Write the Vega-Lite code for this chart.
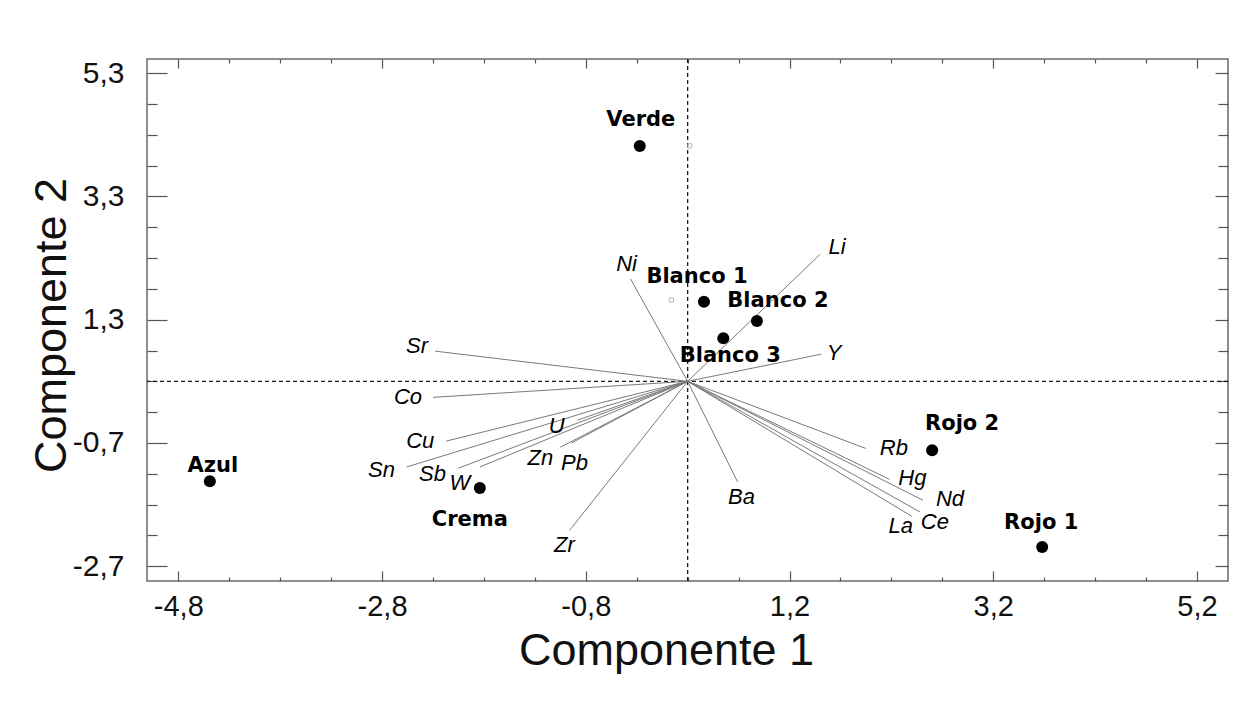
{
  "$schema": "https://vega.github.io/schema/vega-lite/v6.json",
  "width": 1081,
  "height": 522,
  "autosize": {"type": "none"},
  "padding": {"left": 147, "top": 59, "right": 17, "bottom": 121},
  "background": "white",
  "config": {
    "view": {"stroke": "#6a6a6a", "strokeWidth": 1.5},
    "style": {
      "ld": {"font": "Liberation Sans", "fontStyle": "italic", "fontSize": 22, "fill": "#222222", "align": "center", "baseline": "middle"},
      "pt": {"font": "DejaVu Sans", "fontWeight": "bold", "fontSize": 21, "fill": "#111111", "align": "center", "baseline": "middle"}
    }
  },
  "datasets": {
    "scores": [
      {"name": "Verde", "x": -0.27, "y": 4.12},
      {"name": "Blanco 1", "x": 0.36, "y": 1.59},
      {"name": "Blanco 2", "x": 0.88, "y": 1.28},
      {"name": "Blanco 3", "x": 0.55, "y": 1.0},
      {"name": "Azul", "x": -4.49, "y": -1.32},
      {"name": "Crema", "x": -1.84, "y": -1.43},
      {"name": "Rojo 2", "x": 2.6, "y": -0.82},
      {"name": "Rojo 1", "x": 3.68, "y": -2.39}
    ],
    "loadings": [
      {"name": "Sr", "x0": 0.2, "y0": 0.3, "x": -2.28, "y": 0.79},
      {"name": "Co", "x0": 0.2, "y0": 0.3, "x": -2.3, "y": 0.04},
      {"name": "Cu", "x0": 0.2, "y0": 0.3, "x": -2.17, "y": -0.67},
      {"name": "Sn", "x0": 0.2, "y0": 0.3, "x": -2.56, "y": -1.09},
      {"name": "Sb", "x0": 0.2, "y0": 0.3, "x": -2.05, "y": -1.11},
      {"name": "W", "x0": 0.2, "y0": 0.3, "x": -1.84, "y": -1.09},
      {"name": "U", "x0": 0.2, "y0": 0.3, "x": -0.88, "y": -0.33},
      {"name": "Zn", "x0": 0.2, "y0": 0.3, "x": -1.05, "y": -0.77},
      {"name": "Pb", "x0": 0.2, "y0": 0.3, "x": -0.94, "y": -0.7},
      {"name": "Zr", "x0": 0.2, "y0": 0.3, "x": -0.96, "y": -2.12},
      {"name": "Ni", "x0": 0.2, "y0": 0.3, "x": -0.36, "y": 1.96},
      {"name": "Li", "x0": 0.2, "y0": 0.3, "x": 1.5, "y": 2.36},
      {"name": "Y", "x0": 0.2, "y0": 0.3, "x": 1.51, "y": 0.74},
      {"name": "Ba", "x0": 0.2, "y0": 0.3, "x": 0.69, "y": -1.33},
      {"name": "Rb", "x0": 0.2, "y0": 0.3, "x": 1.95, "y": -0.79},
      {"name": "Hg", "x0": 0.2, "y0": 0.3, "x": 2.18, "y": -1.29},
      {"name": "Nd", "x0": 0.2, "y0": 0.3, "x": 2.51, "y": -1.63},
      {"name": "Ce", "x0": 0.2, "y0": 0.3, "x": 2.48, "y": -1.82},
      {"name": "La", "x0": 0.2, "y0": 0.3, "x": 2.4, "y": -1.89}
    ],
    "aux": [
      {"name": "a", "x": 0.22, "y": 4.12},
      {"name": "b", "x": 0.04, "y": 1.62}
    ]
  },
  "resolve": {"axis": {"x": "independent", "y": "independent"}},
  "layer": [
    {
      "data": {"values": [{"v": 0.3}]},
      "mark": {"type": "rule", "color": "#1a1a1a", "strokeWidth": 1.3, "strokeDash": [4, 3]},
      "encoding": {"y": {"field": "v", "type": "quantitative", "scale": {"domain": [-2.94, 5.53], "nice": false, "zero": false}, "axis": null}}
    },
    {
      "data": {"values": [{"v": 0.2}]},
      "mark": {"type": "rule", "color": "#1a1a1a", "strokeWidth": 1.3, "strokeDash": [4, 3]},
      "encoding": {"x": {"field": "v", "type": "quantitative", "scale": {"domain": [-5.107, 5.504], "nice": false, "zero": false}, "axis": null}}
    },
    {
      "data": {"name": "loadings"},
      "mark": {"type": "rule", "color": "#7a7a7a", "strokeWidth": 1},
      "encoding": {
        "x": {"field": "x0", "type": "quantitative", "scale": {"domain": [-5.107, 5.504], "nice": false, "zero": false}, "axis": null},
        "y": {"field": "y0", "type": "quantitative", "scale": {"domain": [-2.94, 5.53], "nice": false, "zero": false}, "axis": null},
        "x2": {"field": "x"},
        "y2": {"field": "y"}
      }
    },
    {
      "data": {"name": "scores"},
      "mark": {"type": "point", "filled": true, "color": "#000000", "size": 145, "opacity": 1},
      "encoding": {
        "x": {
          "field": "x", "type": "quantitative",
          "scale": {"domain": [-5.107, 5.504], "nice": false, "zero": false},
          "axis": {
            "orient": "bottom", "domain": false, "grid": false,
            "values": [-4.8, -4.3, -3.8, -3.3, -2.8, -2.3, -1.8, -1.3, -0.8, -0.3, 0.2, 0.7, 1.2, 1.7, 2.2, 2.7, 3.2, 3.7, 4.2, 4.7, 5.2],
            "tickColor": "#555555", "tickWidth": 1.2,
            "tickSize": {"condition": {"test": "indexof([-4.8, -2.8, -0.8, 1.2, 3.2, 5.2], datum.value) >= 0", "value": -10}, "value": -4},
            "labelExpr": "indexof([-4.8, -2.8, -0.8, 1.2, 3.2, 5.2], datum.value) >= 0 ? replace('' + datum.value, '.', ',') : ''",
            "labelFont": "Liberation Sans", "labelFontSize": 29, "labelColor": "#111111",
            "labelPadding": 35, "labelBaseline": "middle", "labelFlush": false, "labelOverlap": false, "labelBound": false,
            "title": "Componente 1", "titleFont": "Liberation Sans", "titleFontSize": 45, "titleFontWeight": "normal",
            "titleColor": "#111111", "titleX": 519, "titleY": 83, "titleBaseline": "alphabetic", "titleAlign": "center"
          }
        },
        "y": {
          "field": "y", "type": "quantitative",
          "scale": {"domain": [-2.94, 5.53], "nice": false, "zero": false},
          "axis": {
            "orient": "left", "domain": false, "grid": false,
            "values": [-2.7, -2.2, -1.7, -1.2, -0.7, -0.2, 0.3, 0.8, 1.3, 1.8, 2.3, 2.8, 3.3, 3.8, 4.3, 4.8, 5.3],
            "tickColor": "#555555", "tickWidth": 1.2,
            "tickSize": {"condition": {"test": "indexof([-2.7, -0.7, 1.3, 3.3, 5.3], datum.value) >= 0", "value": -20}, "value": -10},
            "labelExpr": "indexof([-2.7, -0.7, 1.3, 3.3, 5.3], datum.value) >= 0 ? replace('' + datum.value, '.', ',') : ''",
            "labelFont": "Liberation Sans", "labelFontSize": 30, "labelColor": "#111111",
            "labelPadding": 43, "labelBaseline": "middle", "labelAlign": "right", "labelFlush": false, "labelOverlap": false, "labelBound": false,
            "title": "Componente 2", "titleFont": "Liberation Sans", "titleFontSize": 45, "titleFontWeight": "normal",
            "titleColor": "#111111", "titleX": -82, "titleY": 266, "titleBaseline": "alphabetic", "titleAlign": "center", "titleAngle": 270
          }
        }
      }
    },
    {
      "data": {"name": "aux"},
      "mark": {"type": "square", "filled": false, "color": "#9a9a9a", "size": 18, "strokeWidth": 1},
      "encoding": {
        "x": {
          "field": "x", "type": "quantitative",
          "scale": {"domain": [-5.107, 5.504], "nice": false, "zero": false},
          "axis": {
            "orient": "top", "domain": false, "grid": false, "labels": false, "title": null,
            "values": [-4.8, -4.3, -3.8, -3.3, -2.8, -2.3, -1.8, -1.3, -0.8, -0.3, 0.2, 0.7, 1.2, 1.7, 2.2, 2.7, 3.2, 3.7, 4.2, 4.7, 5.2],
            "tickColor": "#555555", "tickWidth": 1.2,
            "tickSize": {"condition": {"test": "indexof([-4.8, -2.8, -0.8, 1.2, 3.2, 5.2], datum.value) >= 0", "value": -9}, "value": -4}
          }
        },
        "y": {
          "field": "y", "type": "quantitative",
          "scale": {"domain": [-2.94, 5.53], "nice": false, "zero": false},
          "axis": {
            "orient": "right", "domain": false, "grid": false, "labels": false, "title": null,
            "values": [-2.7, -2.2, -1.7, -1.2, -0.7, -0.2, 0.3, 0.8, 1.3, 1.8, 2.3, 2.8, 3.3, 3.8, 4.3, 4.8, 5.3],
            "tickColor": "#555555", "tickWidth": 1.2,
            "tickSize": {"condition": {"test": "indexof([-2.7, -0.7, 1.3, 3.3, 5.3], datum.value) >= 0", "value": -13}, "value": -10}
          }
        }
      }
    },
    {
      "data": {"name": "scores"},
      "encoding": {
        "x": {"field": "x", "type": "quantitative", "scale": {"domain": [-5.107, 5.504], "nice": false, "zero": false}, "axis": null},
        "y": {"field": "y", "type": "quantitative", "scale": {"domain": [-2.94, 5.53], "nice": false, "zero": false}, "axis": null},
        "text": {"field": "name", "type": "nominal"}
      },
      "layer": [
        {"transform": [{"filter": "datum.name === 'Verde'"}], "mark": {"type": "text", "style": "pt", "dx": 1, "dy": -26}},
        {"transform": [{"filter": "datum.name === 'Blanco 1'"}], "mark": {"type": "text", "style": "pt", "dx": -7, "dy": -25}},
        {"transform": [{"filter": "datum.name === 'Blanco 2'"}], "mark": {"type": "text", "style": "pt", "dx": 21, "dy": -20}},
        {"transform": [{"filter": "datum.name === 'Blanco 3'"}], "mark": {"type": "text", "style": "pt", "dx": 7, "dy": 18}},
        {"transform": [{"filter": "datum.name === 'Azul'"}], "mark": {"type": "text", "style": "pt", "dx": 3, "dy": -15}},
        {"transform": [{"filter": "datum.name === 'Crema'"}], "mark": {"type": "text", "style": "pt", "dx": -10, "dy": 32}},
        {"transform": [{"filter": "datum.name === 'Rojo 2'"}], "mark": {"type": "text", "style": "pt", "dx": 30, "dy": -26}},
        {"transform": [{"filter": "datum.name === 'Rojo 1'"}], "mark": {"type": "text", "style": "pt", "dx": -1, "dy": -24}}
      ]
    },
    {
      "data": {"name": "loadings"},
      "encoding": {
        "x": {"field": "x", "type": "quantitative", "scale": {"domain": [-5.107, 5.504], "nice": false, "zero": false}, "axis": null},
        "y": {"field": "y", "type": "quantitative", "scale": {"domain": [-2.94, 5.53], "nice": false, "zero": false}, "axis": null},
        "text": {"field": "name", "type": "nominal"}
      },
      "layer": [
        {"transform": [{"filter": "datum.name === 'Sr'"}], "mark": {"type": "text", "style": "ld", "dx": -18, "dy": -5}},
        {"transform": [{"filter": "datum.name === 'Co'"}], "mark": {"type": "text", "style": "ld", "dx": -25, "dy": 0}},
        {"transform": [{"filter": "datum.name === 'Cu'"}], "mark": {"type": "text", "style": "ld", "dx": -26, "dy": 0}},
        {"transform": [{"filter": "datum.name === 'Sn'"}], "mark": {"type": "text", "style": "ld", "dx": -25, "dy": 3}},
        {"transform": [{"filter": "datum.name === 'Sb'"}], "mark": {"type": "text", "style": "ld", "dx": -26, "dy": 6}},
        {"transform": [{"filter": "datum.name === 'W'"}], "mark": {"type": "text", "style": "ld", "dx": -20, "dy": 16}},
        {"transform": [{"filter": "datum.name === 'U'"}], "mark": {"type": "text", "style": "ld", "dx": -21, "dy": 6}},
        {"transform": [{"filter": "datum.name === 'Zn'"}], "mark": {"type": "text", "style": "ld", "dx": -20, "dy": 11}},
        {"transform": [{"filter": "datum.name === 'Pb'"}], "mark": {"type": "text", "style": "ld", "dx": 3, "dy": 20}},
        {"transform": [{"filter": "datum.name === 'Zr'"}], "mark": {"type": "text", "style": "ld", "dx": -5, "dy": 15}},
        {"transform": [{"filter": "datum.name === 'Ni'"}], "mark": {"type": "text", "style": "ld", "dx": -4, "dy": -15}},
        {"transform": [{"filter": "datum.name === 'Li'"}], "mark": {"type": "text", "style": "ld", "dx": 17, "dy": -7}},
        {"transform": [{"filter": "datum.name === 'Y'"}], "mark": {"type": "text", "style": "ld", "dx": 13, "dy": -1}},
        {"transform": [{"filter": "datum.name === 'Ba'"}], "mark": {"type": "text", "style": "ld", "dx": 4, "dy": 15}},
        {"transform": [{"filter": "datum.name === 'Rb'"}], "mark": {"type": "text", "style": "ld", "dx": 28, "dy": 0}},
        {"transform": [{"filter": "datum.name === 'Hg'"}], "mark": {"type": "text", "style": "ld", "dx": 23, "dy": -1}},
        {"transform": [{"filter": "datum.name === 'Nd'"}], "mark": {"type": "text", "style": "ld", "dx": 27, "dy": -1}},
        {"transform": [{"filter": "datum.name === 'Ce'"}], "mark": {"type": "text", "style": "ld", "dx": 15, "dy": 10}},
        {"transform": [{"filter": "datum.name === 'La'"}], "mark": {"type": "text", "style": "ld", "dx": -11, "dy": 10}}
      ]
    }
  ]
}
